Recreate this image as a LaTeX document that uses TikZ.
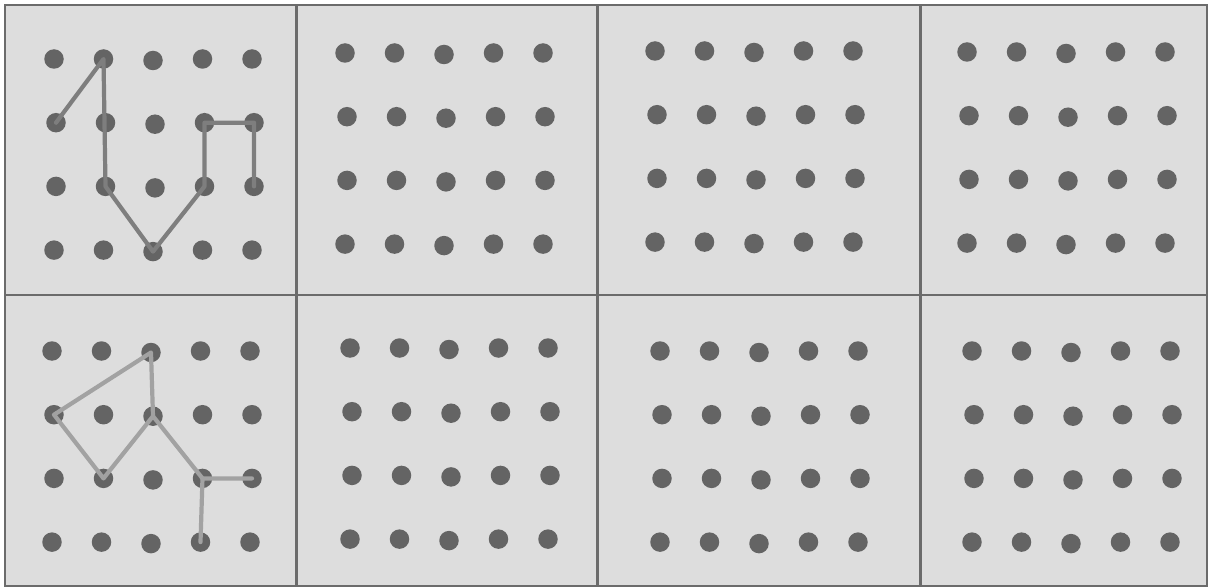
\documentclass[tikz,border=0pt]{standalone}
\usepackage{tikz}

\definecolor{panelgray}{HTML}{DDDDDD}
\definecolor{framegray}{HTML}{6B6B6B}
\definecolor{peggray}{HTML}{646464}
\definecolor{darkline}{HTML}{7E7E7E}
\definecolor{lightline}{HTML}{A2A2A2}

% grid of 4 x 5 pegs: name, x of first peg, y of first peg
\newcommand{\peggrid}[3]{%
  \foreach \r in {1,...,4}{
    \foreach \c in {1,...,5}{
      \pgfmathsetmacro{\dx}{(\r==2 || \r==3) ? 2 : 0}
      \pgfmathsetmacro{\dy}{(\c==3) ? 1.5 : 0}
      \node[peg] (#1-\r-\c) at ({#2+(\c-1)*49.5+\dx}, {#3+(\r-1)*63.7+\dy}) {};
    }
  }
}

\begin{document}
\begin{tikzpicture}[x=1pt, y=-1pt,
  peg/.style={circle, fill=peggray, inner sep=0pt, minimum size=19.5pt},
  frame/.style={draw=framegray, line width=2.5pt},
  cordA/.style={darkline, line width=4.2pt, line cap=round, line join=round},
  cordB/.style={lightline, line width=4.2pt, line cap=round, line join=round}]
  \useasboundingbox (0,0) rectangle (1210,588);

  % --- Panels ---
  \fill[panelgray] (5,5) rectangle (1207,586);
  \foreach \xa/\xb in {5/296.5, 296.5/597.5, 597.5/920.5, 920.5/1207}{
    \draw[frame] (\xa,5) rectangle (\xb,295);
    \draw[frame] (\xa,295) rectangle (\xb,586);
  }

  % --- Pegs ---
  \peggrid{ta}{54}{59}
  \peggrid{tb}{345}{53}
  \peggrid{tc}{655}{51}
  \peggrid{td}{967}{52}
  \peggrid{ba}{52}{351}
  \peggrid{bb}{350}{348}
  \peggrid{bc}{660}{351}
  \peggrid{bd}{972}{351}

  % --- Cords ---
  \draw[cordA] (ta-2-1.center) -- (ta-1-2.center) -- (ta-3-2.center)
    -- (ta-4-3.center) -- (ta-3-4.center) -- (ta-2-4.center)
    -- (ta-2-5.center) -- (ta-3-5.center);

  \draw[cordB] (ba-2-3.center) -- (ba-1-3.center) -- (ba-2-1.center)
    -- (ba-3-2.center) -- (ba-2-3.center) -- (ba-3-4.center) -- (ba-3-5.center);
  \draw[cordB] (ba-3-4.center) -- (ba-4-4.center);
\end{tikzpicture}
\end{document}
